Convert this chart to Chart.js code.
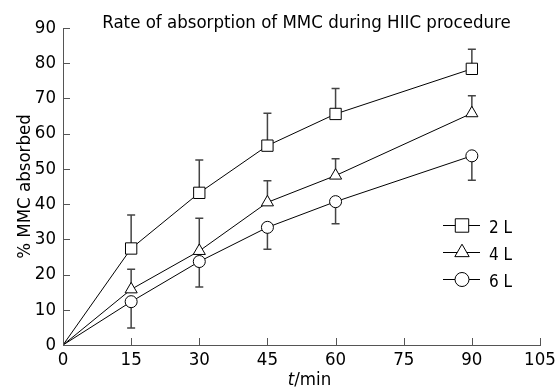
<!DOCTYPE html>
<html>
<head>
<meta charset="utf-8">
<script src="https://cdn.jsdelivr.net/npm/chart.js@4/dist/chart.umd.min.js"></script>
<style>
  body { margin: 0; background: #fff; }
  canvas { display: block; }
</style>
</head>
<body>
<canvas id="myChart" width="557" height="387"></canvas>
<script>
// data
let times = [0, 15, 30, 45, 60, 90];
let vol2 = [0, 27.4, 43.2, 56.6, 65.6, 78.4];
let vol2Err = [0, 9.5, 9.3, 9.2, 7.2, 5.6];
let vol4 = [0, 15.8, 26.7, 40.5, 48.1, 65.8];
let vol4Err = [0, 5.7, 9.3, 6.1, 4.8, 5.0];
let vol6 = [0, 12.3, 23.7, 33.4, 40.7, 53.7];
let vol6Err = [0, 7.5, 7.2, 6.2, 6.3, 6.9];
let seriesLabels = ["2 L", "4 L", "6 L"];

let font = "'DejaVu Sans Condensed', 'Liberation Sans', sans-serif";
let fontSize = 18.5;
let axisColor = "#555";

function points(values) {
    return times.map((t, i) => ({ x: t, y: values[i] }));
}

// first point (origin) has no marker
function radii(r) {
    return times.map((t, i) => (i === 0 ? 0 : r));
}

let errors = [
    { values: vol2, err: vol2Err, dir: 1 },
    { values: vol4, err: vol4Err, dir: 1 },
    { values: vol6, err: vol6Err, dir: -1 },
];

// error bars, drawn under the markers
let errorBars = {
    id: "errorBars",
    beforeDatasetsDraw(chart) {
        let { ctx, scales } = chart;
        ctx.save();
        ctx.strokeStyle = "#444";
        ctx.lineWidth = 1.5;
        errors.forEach((s) => {
            times.forEach((t, i) => {
                if (!s.err[i]) return;
                let x = scales.x.getPixelForValue(t);
                let y0 = scales.y.getPixelForValue(s.values[i]);
                let y1 = scales.y.getPixelForValue(s.values[i] + s.dir * s.err[i]);
                ctx.beginPath();
                ctx.moveTo(x, y0);
                ctx.lineTo(x, y1);
                ctx.moveTo(x - 4, y1);
                ctx.lineTo(x + 4, y1);
                ctx.stroke();
            });
        });
        ctx.restore();
    },
};

// inward tick marks, title, x-axis title and legend
let decorations = {
    id: "decorations",
    afterDraw(chart) {
        let { ctx, chartArea, scales } = chart;
        ctx.save();
        ctx.strokeStyle = axisColor;
        ctx.lineWidth = 1;
        ctx.beginPath();
        scales.y.ticks.forEach((tk) => {
            let y = Math.round(scales.y.getPixelForValue(tk.value)) + 0.5;
            ctx.moveTo(chartArea.left, y);
            ctx.lineTo(chartArea.left + 7, y);
        });
        scales.x.ticks.forEach((tk) => {
            let x = Math.round(scales.x.getPixelForValue(tk.value)) + 0.5;
            ctx.moveTo(x, chartArea.bottom);
            ctx.lineTo(x, chartArea.bottom - 7);
        });
        ctx.stroke();

        // title
        ctx.fillStyle = "#000";
        ctx.textAlign = "center";
        ctx.textBaseline = "middle";
        ctx.font = fontSize + "px " + font;
        ctx.fillText("Rate of absorption of MMC during HIIC procedure", (chartArea.left + chartArea.right) / 2 + 5, 23);

        // x-axis title: italic t + /min
        let italic = "italic " + fontSize + "px " + font;
        let normal = fontSize + "px " + font;
        ctx.font = italic;
        let w1 = ctx.measureText("t").width;
        ctx.font = normal;
        let w2 = ctx.measureText("/min").width;
        let cx = (chartArea.left + chartArea.right) / 2 + 8;
        let sx = cx - (w1 + w2) / 2;
        ctx.textAlign = "left";
        ctx.font = italic;
        ctx.fillText("t", sx, 380);
        ctx.font = normal;
        ctx.fillText("/min", sx + w1, 380);

        // legend
        let lx = 443;
        let ly = 225.5;
        chart.data.datasets.forEach((ds, i) => {
            let y = ly + i * 27;
            ctx.strokeStyle = "#000";
            ctx.lineWidth = 1;
            ctx.beginPath();
            ctx.moveTo(lx, y);
            ctx.lineTo(lx + 37, y);
            ctx.stroke();
            ctx.fillStyle = "#fff";
            Chart.helpers.drawPoint(ctx, {
                pointStyle: ds.pointStyle,
                radius: ds.legendRadius,
                rotation: 0,
                borderWidth: 1,
            }, lx + 19, y);
            ctx.fillStyle = "#000";
            ctx.font = "17px " + font;
            ctx.textAlign = "left";
            ctx.textBaseline = "middle";
            ctx.fillText(ds.label, lx + 46, y + 3);
        });
        ctx.restore();
    },
};

let lineStyle = {
    borderColor: "#000",
    borderWidth: 1,
    backgroundColor: "#fff",
    pointBackgroundColor: "#fff",
    pointBorderColor: "#000",
    pointBorderWidth: 1,
    tension: 0,
    showLine: true,
};

new Chart(document.getElementById("myChart"), {
    type: "scatter",
    data: {
        datasets: [
            { ...lineStyle, label: seriesLabels[0], data: points(vol2), pointStyle: "rect", pointRadius: radii(8), legendRadius: 9.5 },
            { ...lineStyle, label: seriesLabels[1], data: points(vol4), pointStyle: "triangle", pointRadius: radii(7), legendRadius: 8.3 },
            { ...lineStyle, label: seriesLabels[2], data: points(vol6), pointStyle: "circle", pointRadius: radii(6), legendRadius: 7 },
        ],
    },
    options: {
        responsive: false,
        animation: false,
        layout: { padding: { top: 28, right: 17, left: 0, bottom: 0 } },
        plugins: {
            legend: { display: false },
            tooltip: { enabled: false },
        },
        scales: {
            x: {
                type: "linear",
                min: 0,
                max: 105,
                ticks: { stepSize: 15, color: "#000", font: { family: font, size: fontSize }, padding: 4 },
                grid: { drawOnChartArea: false, drawTicks: false },
                border: { color: axisColor, width: 1 },
                afterFit(scale) {
                    scale.height = 42;
                    scale.paddingLeft = 0;
                    scale.paddingRight = 0;
                },
            },
            y: {
                min: 0,
                max: 90,
                ticks: { stepSize: 10, color: "#000", font: { family: font, size: fontSize }, padding: 7 },
                grid: { drawOnChartArea: false, drawTicks: false },
                border: { color: axisColor, width: 1 },
                title: {
                    display: true,
                    text: "% MMC absorbed",
                    color: "#000",
                    font: { family: font, size: fontSize },
                    padding: { top: 14, bottom: 0 },
                },
                afterFit(scale) {
                    scale.width = 63;
                    scale.paddingTop = 0;
                    scale.paddingBottom = 0;
                },
            },
        },
    },
    plugins: [errorBars, decorations],
});
</script>
</body>
</html>
